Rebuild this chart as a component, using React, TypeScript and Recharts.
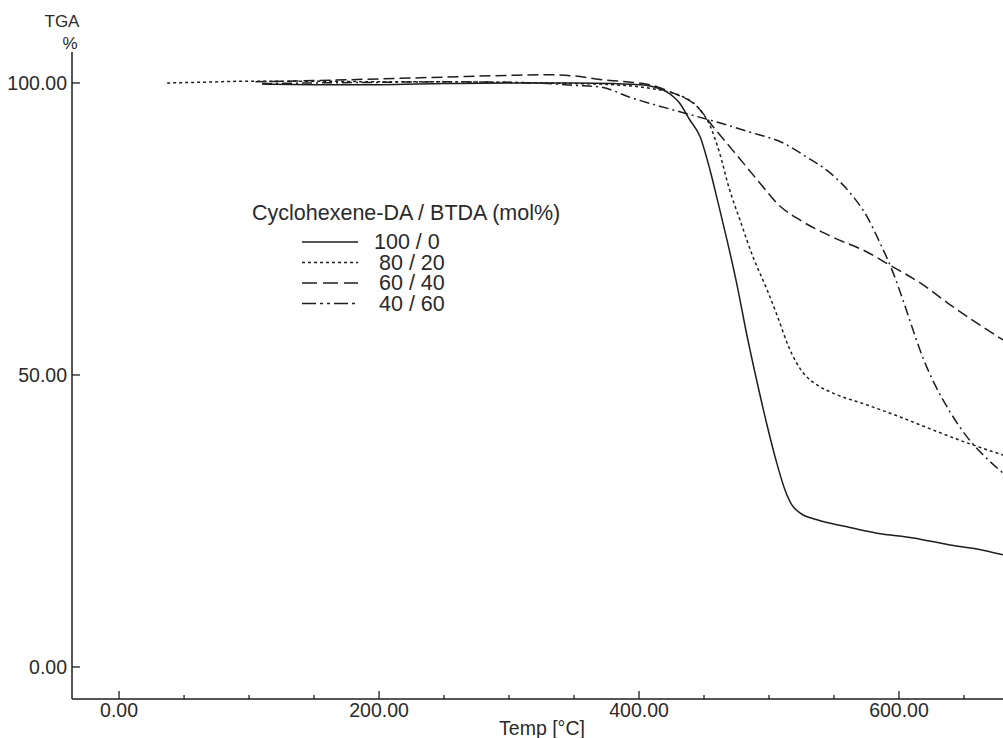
import React from "react";
import { LineChart, Line, XAxis, YAxis, Customized } from "recharts";

const FONT = '"Liberation Sans", Arial, Helvetica, sans-serif';
const INK = "#1e1e1e";

// Series: Cyclohexene-DA / BTDA (mol%)
const seriesNames = ["100 / 0", "80 / 20", "60 / 40", "40 / 60"];

const t100 = [110, 150, 200, 250, 300, 350, 380, 400, 410, 421, 431, 439, 447, 454.6, 460.8, 467.7, 475.4, 483, 490.8, 498.5, 506, 512.3, 517.7, 523.8, 537, 560, 583, 611, 639, 660, 680];
const w100 = [99.8, 99.7, 99.7, 99.9, 100.0, 100.0, 99.9, 99.7, 99.4, 98.5, 96.6, 93.7, 90.8, 85.1, 79.5, 73.1, 65.4, 56.8, 48.8, 41.4, 34.9, 30.3, 27.7, 26.4, 25.2, 24.0, 22.9, 22.1, 20.9, 20.2, 19.2];

const t80 = [37, 60, 100, 150, 200, 250, 300, 350, 380, 408, 420, 431, 445, 455, 462, 469, 477.7, 487.7, 498.5, 506.9, 514.6, 520.8, 527.7, 536.9, 549.2, 575, 601, 626, 652, 680];
const w80 = [100.0, 100.1, 100.3, 100.3, 100.2, 100.2, 100.1, 99.9, 99.7, 99.1, 98.6, 97.9, 95.9, 92.5, 88.0, 82.2, 76.5, 70.2, 64.6, 59.8, 55.1, 52.2, 50.0, 48.3, 46.9, 44.9, 42.8, 40.6, 38.4, 36.3];

const t60 = [105, 150, 200, 250, 300, 330, 350, 370, 390, 408, 426, 445, 457, 472, 491, 509, 524, 549, 575, 593, 616, 642, 680];
const w60 = [100.2, 100.4, 100.7, 101.0, 101.3, 101.4, 101.2, 100.6, 100.2, 99.7, 98.3, 95.9, 92.5, 88.5, 83.4, 78.8, 76.5, 73.6, 71.1, 68.8, 65.8, 61.6, 56.0];

const t40 = [110, 150, 200, 250, 300, 330, 350, 370, 395, 434, 460, 485, 511, 529, 547, 562.3, 575.4, 585.4, 594.6, 603.1, 610.8, 618.5, 627.7, 639.2, 652.3, 666.2, 680];
const w40 = [99.9, 100.0, 100.1, 100.2, 100.1, 99.9, 99.6, 99.3, 97.4, 94.9, 93.3, 91.6, 89.7, 87.3, 84.6, 81.2, 77.1, 72.6, 68.0, 62.8, 57.7, 52.9, 48.3, 43.7, 39.4, 36.0, 33.2];

const xTicks = [0, 50, 100, 150, 200, 250, 300, 350, 400, 450, 500, 550, 600, 650];
const yTicks = [0, 50, 100];

const X_DOMAIN: [number, number] = [-36.2, 680];
const Y_DOMAIN: [number, number] = [-5.48, 105.3];

const zip = (t: number[], w: number[]) => t.map((v, i) => ({ t: v, w: w[i] }));
const data100 = zip(t100, w100);
const data80 = zip(t80, w80);
const data60 = zip(t60, w60);
const data40 = zip(t40, w40);

const dashes = [undefined, "3 3", "11 5", "10 4 2 4"];
const legendDashes = [undefined, "3 3", "15 6", "14 4 3 4 3 4"];

const XTick = (props: any) => {
  const { x, y, payload } = props;
  const major = payload.value % 200 === 0;
  return (
    <g>
      <line x1={x} x2={x} y1={y} y2={y - (major ? 8 : 4)} stroke={INK} strokeWidth={1.3} />
      {major && (
        <text x={x} y={y + 11} textAnchor="middle" dominantBaseline="central" fontFamily={FONT} fontSize={19.5} fill="#2a2a2a">
          {payload.value.toFixed(2)}
        </text>
      )}
    </g>
  );
};

const YTick = (props: any) => {
  const { x, y, payload } = props;
  return (
    <g>
      <line x1={x} x2={x + 8} y1={y} y2={y} stroke={INK} strokeWidth={1.3} />
      <text x={x - 5} y={y} textAnchor="end" dominantBaseline="central" fontFamily={FONT} fontSize={19.5} fill="#2a2a2a">
        {payload.value.toFixed(2)}
      </text>
    </g>
  );
};

const Annotations = () => {
  const rowsY = [242, 262.5, 283, 303.5];
  const textX = [374, 379, 379, 379];
  return (
    <g fontFamily={FONT} fill="#2a2a2a">
      <text x={62} y={21} textAnchor="middle" dominantBaseline="central" fontSize={17}>TGA</text>
      <text x={70} y={43} textAnchor="middle" dominantBaseline="central" fontSize={17}>%</text>
      <text x={542} y={728} textAnchor="middle" dominantBaseline="central" fontSize={19.5}>Temp [°C]</text>
      <text x={252} y={213} dominantBaseline="central" fontSize={21.5}>Cyclohexene-DA / BTDA (mol%)</text>
      {seriesNames.map((n, i) => (
        <g key={n}>
          <line x1={302} x2={358} y1={rowsY[i]} y2={rowsY[i]} stroke={INK} strokeWidth={1.5} strokeDasharray={legendDashes[i]} />
          <text x={textX[i]} y={rowsY[i]} dominantBaseline="central" fontSize={21.5}>{n}</text>
        </g>
      ))}
    </g>
  );
};

export default function App() {
  const datasets = [data100, data80, data60, data40];
  return (
    <div style={{ position: "absolute", left: 0, top: 0, width: 1003, height: 738, overflow: "hidden", background: "#fff" }}>
      <LineChart width={1003} height={738} margin={{ top: 52, right: 0, bottom: 0, left: 0 }}>
        <XAxis
          dataKey="t"
          type="number"
          domain={X_DOMAIN}
          allowDataOverflow
          ticks={xTicks}
          interval={0}
          tickSize={0}
          tickMargin={0}
          tick={<XTick />}
          height={39}
          axisLine={{ stroke: INK, strokeWidth: 1.5 }}
          tickLine={false}
        />
        <XAxis
          xAxisId="top"
          orientation="top"
          dataKey="t"
          type="number"
          domain={X_DOMAIN}
          allowDataOverflow
          height={0}
          tick={false}
          tickLine={false}
          axisLine={{ stroke: INK, strokeWidth: 1.5 }}
        />
        <YAxis
          type="number"
          domain={Y_DOMAIN}
          allowDataOverflow
          ticks={yTicks}
          interval={0}
          tickSize={0}
          tickMargin={0}
          tick={<YTick />}
          width={72}
          axisLine={{ stroke: INK, strokeWidth: 1.5 }}
          tickLine={false}
        />
        {datasets.map((d, i) => (
          <Line
            key={seriesNames[i]}
            data={d}
            dataKey="w"
            name={seriesNames[i]}
            type="monotone"
            stroke={INK}
            strokeWidth={1.5}
            strokeDasharray={dashes[i]}
            dot={false}
            activeDot={false}
            isAnimationActive={false}
          />
        ))}
        <Customized component={Annotations} />
      </LineChart>
    </div>
  );
}
